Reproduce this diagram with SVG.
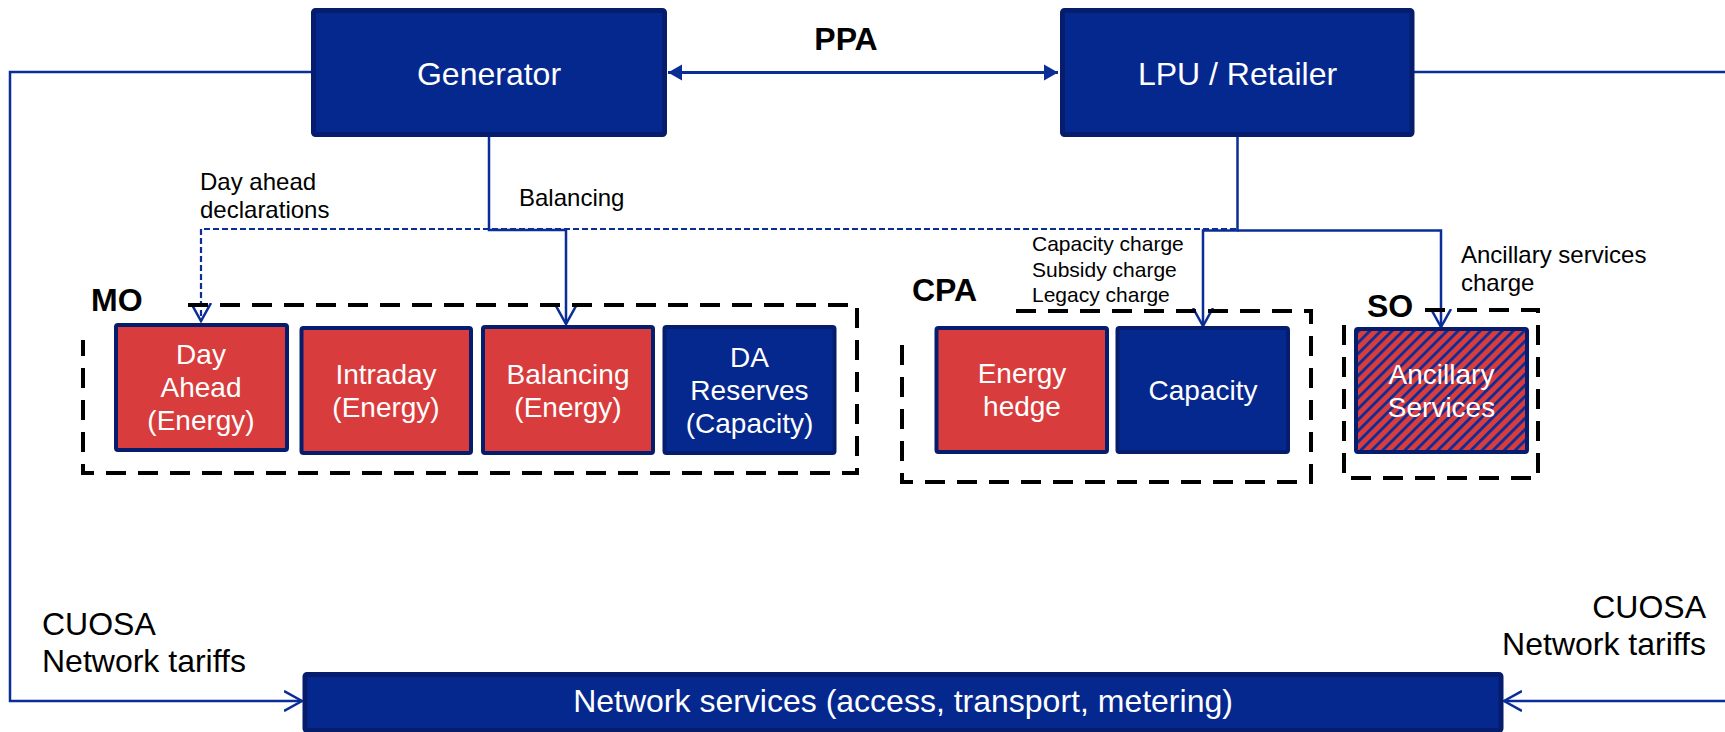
<svg xmlns="http://www.w3.org/2000/svg" width="1725" height="732" viewBox="0 0 1725 732">
<style>
.nb{fill:#05288f;stroke:#061c6c;stroke-width:5}
.sb{fill:#05288f;stroke:#061c6c;stroke-width:4}
.rb{fill:#d93c3c;stroke:#061c6c;stroke-width:4}
.hb{fill:url(#hatch);stroke:#061c6c;stroke-width:4}
.big{font-family:"Liberation Sans",Arial,sans-serif;font-size:32px;fill:#fff;text-anchor:middle}
.bt{font-family:"Liberation Sans",Arial,sans-serif;font-size:28px;fill:#fff;text-anchor:middle}
.lab{font-family:"Liberation Sans",Arial,sans-serif;fill:#000}
.bold{font-family:"Liberation Sans",Arial,sans-serif;font-weight:bold;font-size:32px;fill:#000}
.con{fill:none;stroke:#0b2d96;stroke-width:2.5}
.dash{fill:none;stroke:#0b2d96;stroke-width:2.2;stroke-dasharray:6 3}
.grp{fill:none;stroke:#000;stroke-width:4;stroke-dasharray:20 12}
</style>
<defs>
<marker id="open" markerWidth="20" markerHeight="22" refX="18" refY="11" orient="auto" markerUnits="userSpaceOnUse">
<path d="M0,1 L18,11 L0,21" fill="none" stroke="#0b2d96" stroke-width="2.5"/>
</marker>
<marker id="fill" markerWidth="16" markerHeight="18" refX="14" refY="9" orient="auto-start-reverse" markerUnits="userSpaceOnUse">
<path d="M0,1 L14,9 L0,17 Z" fill="#0b2d96"/>
</marker>
<pattern id="hatch" width="7.8" height="7.8" patternUnits="userSpaceOnUse" patternTransform="rotate(45)">
<rect width="7.8" height="7.8" fill="#d93c3c"/>
<rect width="2.8" height="7.8" fill="#0b2d96"/>
</pattern>
</defs>

<g id="connectors">
<path class="con" d="M311,72 H10 V701 H302" marker-end="url(#open)"/>
<path class="con" d="M1414,72 H1730 V701 H1504" marker-end="url(#open)"/>
<line x1="668" y1="72.5" x2="1058" y2="72.5" stroke="#0b2d96" stroke-width="3" marker-start="url(#fill)" marker-end="url(#fill)"/>
<path class="dash" d="M1236,229 H201 V321" marker-end="url(#open)"/>
<path class="con" d="M489,137 V230 H566 V324" marker-end="url(#open)"/>
<path class="con" d="M1237.5,137 V230.5 H1203 V326" marker-end="url(#open)"/>
<path class="con" d="M1237.5,230.5 H1441 V327" marker-end="url(#open)"/>
</g>

<g id="labels">
<text class="bold" x="846" y="50" text-anchor="middle" font-size="31">PPA</text>
<text class="lab" font-size="24" x="200" y="190">Day ahead</text>
<text class="lab" font-size="24" x="200" y="218">declarations</text>
<text class="lab" font-size="24" x="519" y="206">Balancing</text>
<text class="lab" font-size="21" x="1032" y="251">Capacity charge</text>
<text class="lab" font-size="21" x="1032" y="277">Subsidy charge</text>
<text class="lab" font-size="21" x="1032" y="302">Legacy charge</text>
<text class="lab" font-size="24" x="1461" y="263">Ancillary services</text>
<text class="lab" font-size="24" x="1461" y="291">charge</text>
<text class="lab" font-size="32" x="42" y="635">CUOSA</text>
<text class="lab" font-size="32" x="42" y="672">Network tariffs</text>
<text class="lab" font-size="32" x="1706" y="618" text-anchor="end">CUOSA</text>
<text class="lab" font-size="32" x="1706" y="655" text-anchor="end">Network tariffs</text>
</g>

<g id="MO">
<path class="grp" d="M188,305 H857 V473 H83 V340"/>
<text class="bold" x="91" y="311">MO</text>
</g>
<g id="CPA">
<path class="grp" d="M1016,311 H1311 V482 H902 V333"/>
<text class="bold" x="912" y="301">CPA</text>
</g>
<g id="SO">
<path class="grp" d="M1425,310 H1538 V478 H1344 V316"/>
<text class="bold" x="1367" y="317">SO</text>
</g>

<g id="generator">
<rect class="nb" x="313.5" y="10.5" width="351" height="124" rx="2"/>
<text class="big" x="489" y="85">Generator</text>
</g>
<g id="lpu">
<rect class="nb" x="1062.5" y="10.5" width="349.5" height="124" rx="2"/>
<text class="big" x="1237.5" y="85">LPU / Retailer</text>
</g>
<g id="day-ahead">
<rect class="rb" x="116" y="325" width="171" height="125" rx="2"/>
<text class="bt" x="201" y="364">Day</text>
<text class="bt" x="201" y="397">Ahead</text>
<text class="bt" x="201" y="430">(Energy)</text>
</g>
<g id="intraday">
<rect class="rb" x="301.5" y="328" width="169.5" height="125" rx="2"/>
<text class="bt" x="386" y="384">Intraday</text>
<text class="bt" x="386" y="417">(Energy)</text>
</g>
<g id="balancing">
<rect class="rb" x="483" y="327" width="170" height="126" rx="2"/>
<text class="bt" x="568" y="384">Balancing</text>
<text class="bt" x="568" y="417">(Energy)</text>
</g>
<g id="da-reserves">
<rect class="sb" x="664.5" y="327" width="170" height="126" rx="2"/>
<text class="bt" x="749.5" y="367">DA</text>
<text class="bt" x="749.5" y="400">Reserves</text>
<text class="bt" x="749.5" y="433">(Capacity)</text>
</g>
<g id="energy-hedge">
<rect class="rb" x="936.5" y="328" width="170.5" height="124" rx="2"/>
<text class="bt" x="1022" y="383">Energy</text>
<text class="bt" x="1022" y="416">hedge</text>
</g>
<g id="capacity">
<rect class="sb" x="1117.5" y="328" width="170.5" height="124" rx="2"/>
<text class="bt" x="1203" y="400">Capacity</text>
</g>
<g id="ancillary">
<rect class="hb" x="1356" y="329" width="171" height="123" rx="2"/>
<text class="bt" x="1441.5" y="384">Ancillary</text>
<text class="bt" x="1441.5" y="417">Services</text>
</g>
<g id="network">
<rect class="nb" x="305" y="674.5" width="1196" height="56" rx="2"/>
<text class="big" x="903" y="712">Network services (access, transport, metering)</text>
</g>
</svg>
